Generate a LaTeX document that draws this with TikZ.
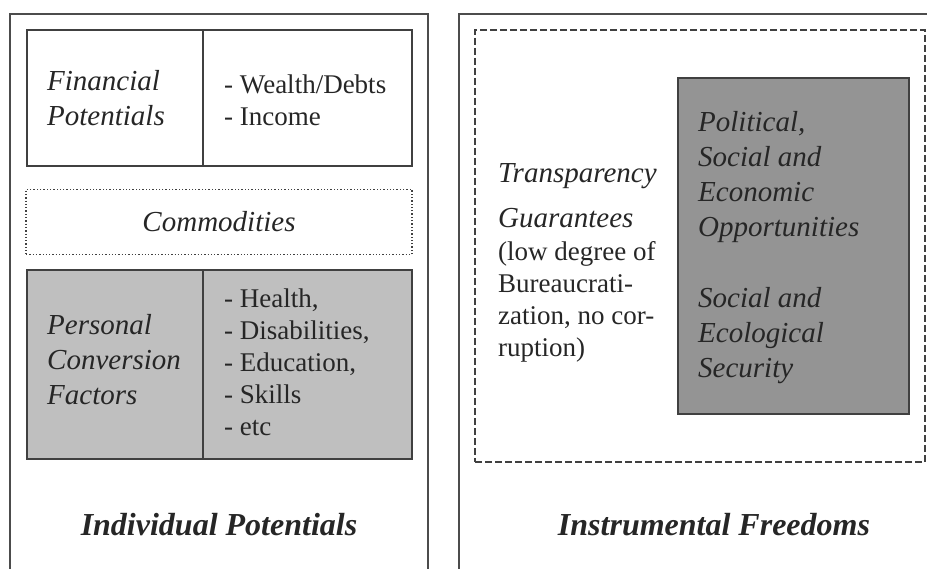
\documentclass[tikz,border=0pt]{standalone}
\usepackage{fontspec}
\setmainfont{Liberation Serif}
\usetikzlibrary{positioning}

\begin{document}
\begin{tikzpicture}[x=1pt,y=-1pt]
             \tikzstyle{cell} = [draw=black!75,line width=1.3pt,inner sep=0pt]
             \tikzstyle{heading} = [anchor=west,align=left,inner sep=0pt,text=black!85,font=\fontsize{29}{35}\selectfont\itshape]
             \tikzstyle{items} = [anchor=west,align=left,inner sep=0pt,text=black!85,font=\fontsize{27}{32}\selectfont]
             \tikzstyle{title} = [inner sep=0pt,text=black!85,font=\fontsize{32}{38}\selectfont\bfseries\itshape]
		\useasboundingbox (0,0) rectangle (927,569);
		% Frames
		\draw[black!70,line width=1.3pt] (10,569) |- (428,14) -- (428,569);
		\draw[black!70,line width=1.3pt] (459,569) |- (927,14);
		% Financial potentials
		\node[cell,minimum width=176pt,minimum height=136pt] (fincell) at (115,98) {};
		\node[cell,minimum width=209pt,minimum height=136pt] (finlist) at (307.5,98) {};
		\node[heading] (fin) at (47,98) {Financial\\Potentials};
		\node[items] (finitems) at (224,100) {- Wealth/Debts\\- Income};
		% Commodities
		\node[cell,dotted,line width=1.2pt,minimum width=386pt,minimum height=65pt] (comcell) at (219,222) {};
		\node[heading,anchor=center] (com) at (comcell) {Commodities};
		% Personal conversion factors
		\node[cell,fill=black!25,minimum width=176pt,minimum height=189pt] (perscell) at (115,364.5) {};
		\node[cell,fill=black!25,minimum width=209pt,minimum height=189pt] (perslist) at (307.5,364.5) {};
		\node[heading] (pers) at (47,360) {Personal\\Conversion\\Factors};
		\node[items] (persitems) at (224,362) {- Health,\\- Disabilities,\\- Education,\\- Skills\\- etc};
		% Instrumental freedoms
		\node[cell,dashed,dash pattern=on 7pt off 3pt,minimum width=450pt,minimum height=432pt] (instcell) at (700,246) {};
		\node[heading,font=\fontsize{29}{45}\selectfont\itshape] (transp) at (498,196) {Transparency\\Guarantees};
		\node[items] (bureau) at (498,302) {(low degree of\\Bureaucrati-\\zation, no cor-\\ruption)};
		\node[cell,fill=black!42,minimum width=231pt,minimum height=336pt] (oppcell) at (793.5,246) {};
		\node[heading] (opp) at (698,177) {Political,\\Social and\\Economic\\Opportunities};
		\node[heading] (secur) at (698,336) {Social and\\Ecological\\Security};
		% Titles
		\node[title] (indiv) at (219,525) {Individual Potentials};
		\node[title] (instr) at (714,525) {Instrumental Freedoms};
\end{tikzpicture}
\end{document}
